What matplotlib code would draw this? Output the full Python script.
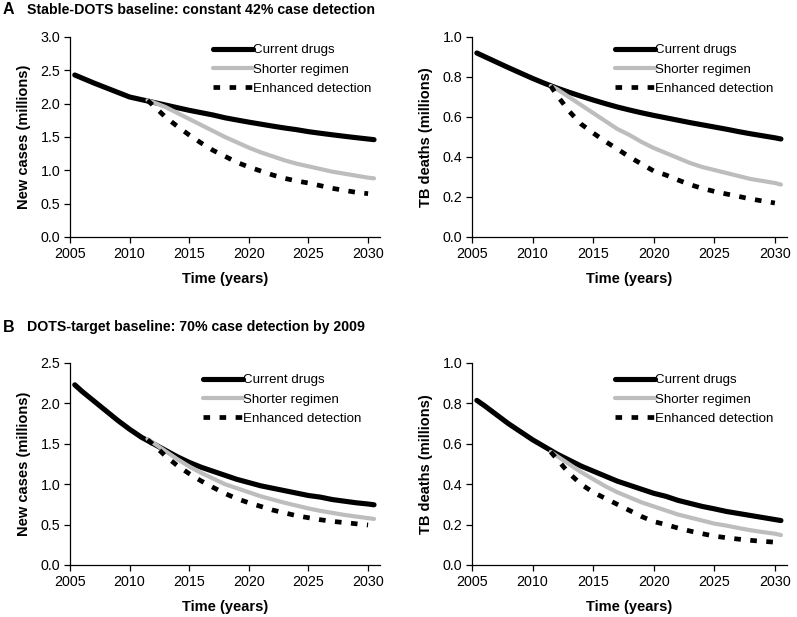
import matplotlib
matplotlib.use("Agg")
import matplotlib.pyplot as plt

plt.rcParams['font.family'] = ['Liberation Sans', 'DejaVu Sans']

# ---------------- data ----------------
yrs_cur = [2005.4] + list(range(2006, 2031)) + [2030.5]
yrs_int = [2011.5] + list(range(2012, 2031)) + [2030.5]
yrs_enh = [2011.5] + list(range(2012, 2031))

a_cases_current = [2.43, 2.385, 2.31, 2.24, 2.17, 2.10, 2.06, 2.02, 1.98, 1.94, 1.90, 1.865, 1.83,
                   1.788, 1.755, 1.723, 1.693, 1.663, 1.635, 1.61, 1.58, 1.556, 1.533, 1.511, 1.49, 1.47, 1.46]
a_cases_shorter = [2.05, 2.02, 1.95, 1.86, 1.77, 1.68, 1.59, 1.50, 1.42, 1.34, 1.27, 1.21, 1.15,
                   1.10, 1.06, 1.02, 0.98, 0.95, 0.92, 0.89, 0.88]
a_cases_enhanced = [2.05, 1.97, 1.80, 1.66, 1.53, 1.41, 1.30, 1.21, 1.12, 1.05, 0.99, 0.93, 0.88,
                    0.84, 0.81, 0.77, 0.73, 0.70, 0.67, 0.65]

a_deaths_current = [0.92, 0.903, 0.875, 0.847, 0.82, 0.793, 0.768, 0.745, 0.724, 0.704, 0.685, 0.667, 0.65,
                    0.635, 0.621, 0.608, 0.596, 0.584, 0.572, 0.561, 0.55, 0.539, 0.527, 0.516, 0.506, 0.496, 0.49]
a_deaths_shorter = [0.755, 0.74, 0.70, 0.66, 0.62, 0.58, 0.54, 0.51, 0.475, 0.445, 0.42, 0.395, 0.37,
                    0.35, 0.335, 0.32, 0.305, 0.29, 0.28, 0.27, 0.262]
a_deaths_enhanced = [0.755, 0.71, 0.63, 0.565, 0.52, 0.478, 0.44, 0.40, 0.365, 0.33, 0.31, 0.285,
                     0.262, 0.243, 0.228, 0.215, 0.203, 0.19, 0.18, 0.17]

b_cases_current = [2.23, 2.15, 2.03, 1.91, 1.79, 1.68, 1.58, 1.50, 1.42, 1.34, 1.27, 1.21, 1.16,
                   1.11, 1.06, 1.02, 0.98, 0.95, 0.92, 0.89, 0.86, 0.84, 0.81, 0.79, 0.77, 0.755, 0.745]
b_cases_shorter = [1.56, 1.51, 1.41, 1.31, 1.22, 1.14, 1.07, 1.00, 0.95, 0.90, 0.85, 0.81, 0.77,
                   0.735, 0.70, 0.67, 0.645, 0.62, 0.60, 0.58, 0.57]
b_cases_enhanced = [1.55, 1.49, 1.35, 1.23, 1.13, 1.04, 0.96, 0.885, 0.82, 0.77, 0.725, 0.68, 0.645,
                    0.61, 0.585, 0.56, 0.54, 0.525, 0.51, 0.495]

b_deaths_current = [0.815, 0.79, 0.745, 0.70, 0.66, 0.62, 0.585, 0.55, 0.52, 0.49, 0.465, 0.44, 0.415,
                    0.395, 0.375, 0.355, 0.34, 0.32, 0.305, 0.29, 0.278, 0.265, 0.255, 0.245, 0.235, 0.225, 0.22]
b_deaths_shorter = [0.56, 0.54, 0.50, 0.46, 0.425, 0.39, 0.36, 0.335, 0.31, 0.29, 0.27, 0.25, 0.235,
                    0.22, 0.205, 0.195, 0.183, 0.172, 0.163, 0.155, 0.148]
b_deaths_enhanced = [0.56, 0.525, 0.455, 0.40, 0.36, 0.33, 0.30, 0.27, 0.24, 0.215, 0.20, 0.183, 0.168,
                     0.155, 0.143, 0.135, 0.128, 0.122, 0.117, 0.113]

series_labels = ["Current drugs", "Shorter regimen", "Enhanced detection"]
x_ticks = [2005, 2010, 2015, 2020, 2025, 2030]
xlabel = "Time (years)"
ylabel_cases = "New cases (millions)"
ylabel_deaths = "TB deaths (millions)"
title_a = "Stable-DOTS baseline: constant 42% case detection"
title_b = "DOTS-target baseline: 70% case detection by 2009"

# ---------------- figure ----------------
W, H = 797, 617
fig = plt.figure(figsize=(W / 100, H / 100), dpi=100)


def px_axes(l, t, r, b):
    return fig.add_axes([l / W, 1 - b / H, (r - l) / W, (b - t) / H])


panels = [
    (px_axes(70, 37, 380, 237), a_cases_current, a_cases_shorter, a_cases_enhanced,
     ylabel_cases, 3.0, 0.5, (213, 44)),
    (px_axes(472, 37, 787, 237), a_deaths_current, a_deaths_shorter, a_deaths_enhanced,
     ylabel_deaths, 1.0, 0.2, (615, 44)),
    (px_axes(70, 363, 380, 565), b_cases_current, b_cases_shorter, b_cases_enhanced,
     ylabel_cases, 2.5, 0.5, (203, 374)),
    (px_axes(472, 363, 787, 565), b_deaths_current, b_deaths_shorter, b_deaths_enhanced,
     ylabel_deaths, 1.0, 0.2, (615, 374)),
]

gray = "#bdbdbd"
for ax, cur, sho, enh, ylab, ymax, ystep, (lx, ly) in panels:
    ax.plot(yrs_cur, cur, color="black", lw=3.7, solid_capstyle="round", label=series_labels[0], zorder=2)
    ax.plot(yrs_int, sho, color=gray, lw=3.0, solid_capstyle="round", label=series_labels[1], zorder=3)
    ax.plot(yrs_enh, enh, color="black", lw=3.4, linestyle=(0, (1.4, 2.0)), dash_capstyle="butt",
            label=series_labels[2], zorder=4)
    ax.set_xlim(2005, 2031)
    ax.set_ylim(0, ymax)
    ax.set_xticks(x_ticks)
    n = int(round(ymax / ystep))
    ax.set_yticks([i * ystep for i in range(n + 1)])
    ax.set_yticklabels([f"{i * ystep:.1f}" for i in range(n + 1)])
    for s in ["top", "right"]:
        ax.spines[s].set_visible(False)
    for s in ["left", "bottom"]:
        ax.spines[s].set_linewidth(0.9)
    ax.tick_params(direction="out", length=4, width=0.9, labelsize=10.3, pad=3)
    ax.set_xlabel(xlabel, fontsize=10.5, fontweight="bold", labelpad=8)
    ax.set_ylabel(ylab, fontsize=10.5, fontweight="bold", labelpad=7)
    ax.legend(loc="upper left", bbox_to_anchor=(lx / W, 1 - ly / H), bbox_transform=fig.transFigure,
              frameon=False, fontsize=9.6, handlelength=3.0, handletextpad=0.0,
              borderpad=0, borderaxespad=0, labelspacing=0.52)

fig.text(3 / W, 1 - 10 / H, "A", fontsize=11.5, fontweight="bold", va="center", ha="left")
fig.text(27 / W, 1 - 10 / H, title_a, fontsize=10.2, fontweight="bold", va="center", ha="left")
fig.text(3 / W, 1 - 327 / H, "B", fontsize=11.5, fontweight="bold", va="center", ha="left")
fig.text(27 / W, 1 - 327 / H, title_b, fontsize=10.2, fontweight="bold", va="center", ha="left")

fig.savefig("out.png", dpi=100)
